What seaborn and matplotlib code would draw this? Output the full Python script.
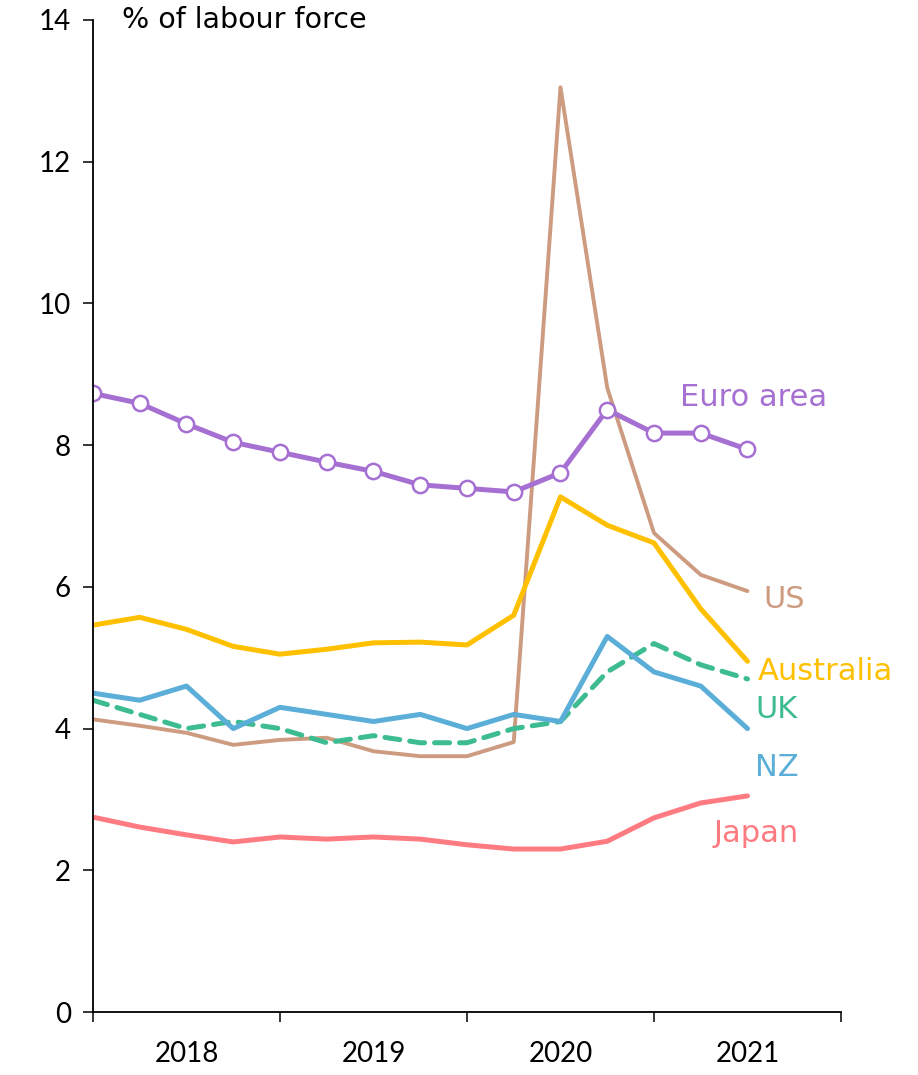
import matplotlib
matplotlib.use("Agg")
import matplotlib.pyplot as plt
import seaborn as sns
import pandas as pd

# quarterly, 2018 Q1 .. 2021 Q3
quarters = [2018 + i / 4 for i in range(15)]

euro_area = [8.73, 8.59, 8.30, 8.04, 7.90, 7.76, 7.63, 7.44, 7.39, 7.34, 7.61, 8.50, 8.17, 8.17, 7.94]
us = [4.13, 4.04, 3.94, 3.77, 3.84, 3.87, 3.68, 3.61, 3.61, 3.81, 13.05, 8.81, 6.76, 6.17, 5.94]
australia = [5.46, 5.57, 5.40, 5.16, 5.05, 5.12, 5.21, 5.22, 5.18, 5.60, 7.27, 6.87, 6.62, 5.69, 4.95]
uk = [4.4, 4.2, 4.0, 4.1, 4.0, 3.8, 3.9, 3.8, 3.8, 4.0, 4.1, 4.8, 5.2, 4.9, 4.7]
nz = [4.5, 4.4, 4.6, 4.0, 4.3, 4.2, 4.1, 4.2, 4.0, 4.2, 4.1, 5.3, 4.8, 4.6, 4.0]
japan = [2.75, 2.61, 2.50, 2.40, 2.47, 2.44, 2.47, 2.44, 2.36, 2.30, 2.30, 2.41, 2.74, 2.95, 3.05]

year_labels = ["2018", "2019", "2020", "2021"]

sns.set_theme(style="white")
plt.rcParams['font.family'] = ['Lato', 'DejaVu Sans']

fig, ax = plt.subplots(figsize=(9.18, 10.75), dpi=100)
fig.subplots_adjust(left=0.1013, right=0.9161, top=0.9814, bottom=0.0586)

series = [
    ("Japan", japan, "#ff7b82", "-"),
    ("US", us, "#cd9b80", "-"),
    ("UK", uk, "#3dbb91", "--"),
    ("NZ", nz, "#5aaed8", "-"),
    ("Australia", australia, "#ffc000", "-"),
]

for name, vals, col, ls in series:
    df = pd.DataFrame({"quarter": quarters, "rate": vals})
    lw = 2.8 if name == "US" else 3.6
    sns.lineplot(data=df, x="quarter", y="rate", color=col, linewidth=lw,
                 linestyle=ls, ax=ax, solid_capstyle="round", dash_capstyle="round")
    if ls == "--":
        ax.lines[-1].set_dashes([3, 2])

df_euro = pd.DataFrame({"quarter": quarters, "rate": euro_area})
sns.lineplot(data=df_euro, x="quarter", y="rate", color="#a66fd2", linewidth=3.6,
             marker="o", markersize=11, markerfacecolor="white",
             markeredgecolor="#a66fd2", markeredgewidth=1.8, ax=ax)

ax.set_xlim(2018, 2022)
ax.set_ylim(0, 14)
ax.set_yticks(range(0, 15, 2))
ax.set_xticks([2018, 2019, 2020, 2021, 2022])
ax.set_xticklabels([])
ax.set_xticks([2018.5, 2019.5, 2020.5, 2021.5], minor=True)
ax.set_xticklabels(year_labels, minor=True)
ax.tick_params(axis="x", which="minor", bottom=False, length=0, pad=21,
               labelsize=20, colors="black")
ax.tick_params(axis="x", which="major", bottom=True, direction="out", length=7,
               width=1.1, color="black")
ax.tick_params(axis="y", left=True, direction="out", length=7, width=1.1, color="black",
               labelsize=20, labelcolor="black", pad=9)
ax.set_xlabel("")
ax.set_ylabel("")

for s in ["top", "right"]:
    ax.spines[s].set_visible(False)
for s in ["left", "bottom"]:
    ax.spines[s].set_color("black")
    ax.spines[s].set_linewidth(1.3)

ax.text(0.039, 1.0, "% of labour force", transform=ax.transAxes, fontsize=20.5,
        va="center", ha="left", color="black", family="DejaVu Sans")

labels = [
    ("Euro area", 2021.139, 8.55, "#a66fd2"),
    ("US", 2021.583, 5.70, "#cd9b80"),
    ("Australia", 2021.556, 4.685, "#ffc000"),
    ("UK", 2021.540, 4.15, "#3dbb91"),
    ("NZ", 2021.540, 3.33, "#5aaed8"),
    ("Japan", 2021.316, 2.40, "#ff7b82"),
]
for txt, x, y, col in labels:
    ax.text(x, y, txt, color=col, fontsize=22, ha="left", va="baseline",
            family="DejaVu Sans")

fig.savefig("out.png", dpi=100)
